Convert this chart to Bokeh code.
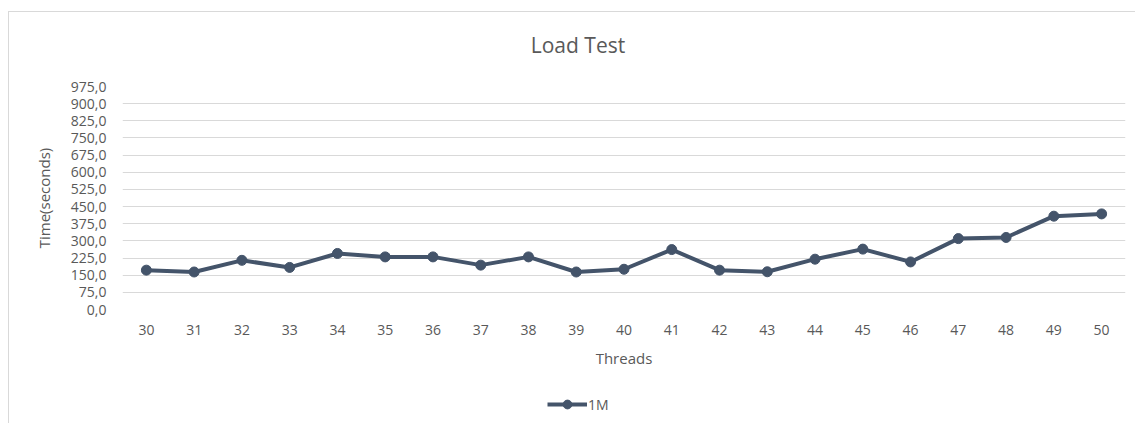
from bokeh.plotting import figure
from bokeh.layouts import column
from bokeh.models import FixedTicker, CustomJSTickFormatter, Legend, LegendItem, Range1d, Label
from bokeh.embed import file_html
from bokeh.resources import INLINE

threads = [30, 31, 32, 33, 34, 35, 36, 37, 38, 39, 40, 41, 42, 43, 44, 45, 46, 47, 48, 49, 50]
time_1m = [172, 164, 215, 184, 245, 230, 230, 194, 230, 164, 176, 262, 172, 165, 220, 264, 208, 310, 315, 408, 418]
y_ticks = [0, 75, 150, 225, 300, 375, 450, 525, 600, 675, 750, 825, 900, 975]
series_name = "1M"
chart_title = "Load Test"

TEXT = "#595959"
LINE = "#44546A"
FONT = "Open Sans"


def strip(height):
    f = figure(width=1126, height=height, output_backend="svg", toolbar_location=None,
               x_range=Range1d(0, 1002), y_range=Range1d(0, height),
               min_border_left=113, min_border_right=10, min_border_top=0, min_border_bottom=0)
    f.axis.visible = False
    f.grid.visible = False
    f.outline_line_color = None
    f.border_fill_color = "white"
    f.background_fill_color = "white"
    return f


# title strip
tf = strip(60)
tf.add_layout(Label(x=455, y=28, text=chart_title, text_align="center", text_baseline="middle",
                    text_color=TEXT, text_font=FONT, text_font_size="21px"))

# main chart
p = figure(width=1126, height=310, output_backend="svg", toolbar_location=None,
           x_range=Range1d(29.5, 50.5), y_range=Range1d(0, 975),
           min_border_left=113, min_border_right=10, min_border_top=14, min_border_bottom=73)
p.outline_line_color = None
p.background_fill_color = "white"
p.border_fill_color = "white"

p.xgrid.grid_line_color = None
p.ygrid.grid_line_color = "#d9d9d9"
p.ygrid.grid_line_width = 1

p.xaxis.ticker = FixedTicker(ticks=threads)
p.yaxis.ticker = FixedTicker(ticks=y_ticks)
p.yaxis.formatter = CustomJSTickFormatter(code="return tick.toFixed(1).replace('.', ',');")

for ax in (p.xaxis[0], p.yaxis[0]):
    ax.axis_line_color = None
    ax.major_tick_line_color = None
    ax.minor_tick_line_color = None
    ax.major_tick_out = 0
    ax.major_tick_in = 0
    ax.major_label_text_color = TEXT
    ax.major_label_text_font = FONT
    ax.major_label_text_font_size = "14px"
    ax.axis_label_text_color = TEXT
    ax.axis_label_text_font = FONT
    ax.axis_label_text_font_size = "15px"
    ax.axis_label_text_font_style = "normal"

p.xaxis.axis_label = "Threads"
p.yaxis.axis_label = "Time(seconds)"
p.xaxis.major_label_standoff = 15
p.xaxis.axis_label_standoff = 10
p.yaxis.major_label_standoff = 16
p.yaxis.axis_label_standoff = 14

p.line(threads, time_1m, line_color=LINE, line_width=4)
p.scatter(threads, time_1m, size=10, fill_color=LINE, line_color=LINE)

# legend strip below the chart (series drawn off-range, only the legend shows)
lf = strip(41)
lf.x_range = Range1d(0, 1)
lf.y_range = Range1d(0, 1)
lg_line = lf.line(threads, time_1m, line_color=LINE, line_width=4)
lg_pts = lf.scatter(threads, time_1m, size=10, fill_color=LINE, line_color=LINE)
legend = Legend(items=[LegendItem(label=series_name, renderers=[lg_line, lg_pts])],
                location=(425, 8), orientation="horizontal",
                padding=0, margin=0, spacing=0, glyph_width=40, glyph_height=22,
                label_text_color=TEXT, label_text_font=FONT, label_text_font_size="14px",
                label_standoff=1, border_line_color=None, background_fill_alpha=0)
lf.add_layout(legend, "center")

layout = column(tf, p, lf, spacing=0, margin=(11, 0, 0, 8),
                styles={"border-top": "1px solid #d9d9d9", "border-left": "1px solid #d9d9d9",
                        "background": "white"})

open("out.html", "w").write(file_html(layout, INLINE))
